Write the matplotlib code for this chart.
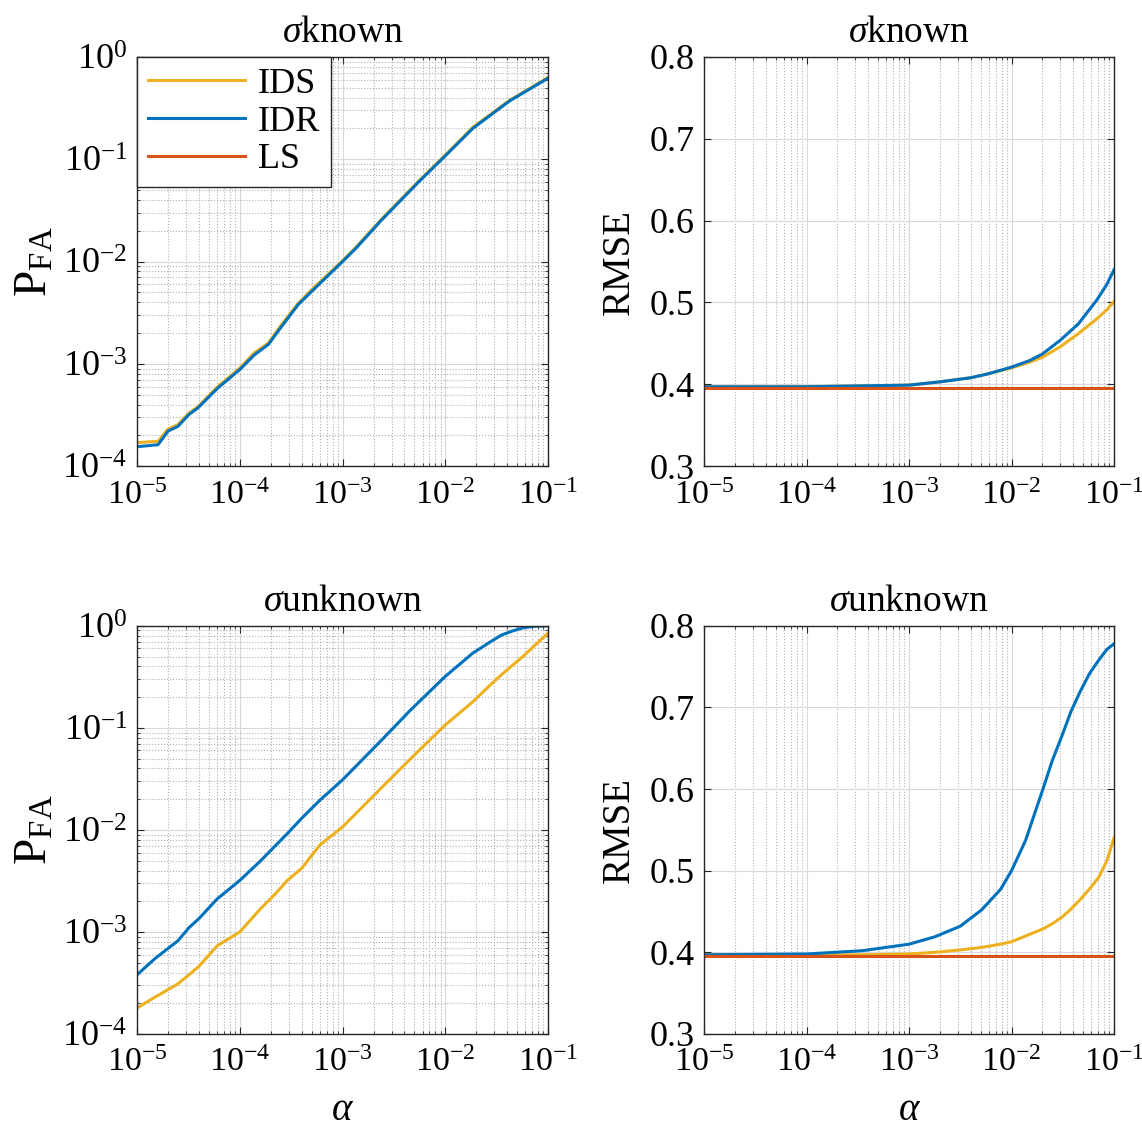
import numpy as np
import matplotlib
matplotlib.use('Agg')
import matplotlib.pyplot as plt
from matplotlib.ticker import LogLocator, MultipleLocator, NullFormatter, FormatStrFormatter

plt.rcParams['font.family'] = ['Liberation Serif', 'DejaVu Serif']
plt.rcParams['mathtext.fontset'] = 'custom'
plt.rcParams['mathtext.rm'] = 'Liberation Serif'
plt.rcParams['mathtext.it'] = 'Liberation Serif:italic'
plt.rcParams['mathtext.bf'] = 'Liberation Serif:bold'

# sigma known, P_FA
a_pk = [1e-5, 1.6e-5, 2e-5, 2.5e-5, 3.2e-5, 3.9e-5, 6.1e-5, 1e-4, 1.38e-4, 1.9e-4, 2.45e-4,
        3.7e-4, 5.1e-4, 1e-3, 1.35e-3, 2.4e-3, 5.5e-3, 1e-2, 1.85e-2, 4.2e-2, 1e-1]
ids_pk = [1.7e-4, 1.75e-4, 2.3e-4, 2.55e-4, 3.3e-4, 3.8e-4, 6e-4, 9.1e-4, 1.28e-3, 1.6e-3, 2.3e-3,
          3.9e-3, 5.4e-3, 1.02e-2, 1.38e-2, 2.6e-2, 6.1e-2, 1.1e-1, 2.05e-1, 3.75e-1, 6.3e-1]
idr_pk = [1.55e-4, 1.62e-4, 2.2e-4, 2.45e-4, 3.2e-4, 3.7e-4, 5.8e-4, 8.8e-4, 1.22e-3, 1.55e-3, 2.2e-3,
          3.8e-3, 5.2e-3, 1e-2, 1.35e-2, 2.55e-2, 6e-2, 1.08e-1, 2e-1, 3.7e-1, 6.2e-1]

# sigma unknown, P_FA
a_pu = [1e-5, 1.5e-5, 2.5e-5, 3.2e-5, 4e-5, 6e-5, 1e-4, 1.6e-4, 2.25e-4, 2.9e-4, 4e-4, 6e-4,
        1e-3, 2.4e-3, 4.6e-3, 1e-2, 1.85e-2, 2.7e-2, 3.5e-2, 4.5e-2, 5.8e-2, 7.5e-2, 1e-1]
ids_pu = [1.8e-4, 2.3e-4, 3.1e-4, 3.8e-4, 4.6e-4, 7.3e-4, 1e-3, 1.7e-3, 2.4e-3, 3.2e-3, 4.2e-3, 7.1e-3,
          1.07e-2, 2.6e-2, 5e-2, 1.07e-1, 1.8e-1, 2.6e-1, 3.3e-1, 4.1e-1, 5.1e-1, 6.5e-1, 8.5e-1]
idr_pu = [3.8e-4, 5.5e-4, 8.2e-4, 1.1e-3, 1.35e-3, 2.1e-3, 3.2e-3, 5e-3, 7.1e-3, 9.2e-3, 1.3e-2, 1.95e-2,
          3.1e-2, 7.6e-2, 1.5e-1, 3.2e-1, 5.4e-1, 6.9e-1, 8.1e-1, 8.9e-1, 9.6e-1, 9.9e-1, 1.0]

# sigma known, RMSE
a_rk = [1e-5, 1e-4, 1e-3, 2e-3, 4e-3, 6e-3, 1e-2, 1.5e-2, 2e-2, 3e-2, 4.5e-2, 6.8e-2, 8.5e-2, 1e-1]
ids_rk = [0.397, 0.397, 0.399, 0.403, 0.408, 0.413, 0.42, 0.427, 0.433, 0.446, 0.462, 0.48, 0.491, 0.501]
idr_rk = [0.397, 0.397, 0.399, 0.403, 0.408, 0.413, 0.421, 0.429, 0.437, 0.454, 0.474, 0.503, 0.522, 0.54]
ls_rk = [0.396] * len(a_rk)

# sigma unknown, RMSE
a_ru = [1e-5, 1e-4, 3.5e-4, 1e-3, 1.78e-3, 3.16e-3, 5.1e-3, 7.8e-3, 1e-2, 1.37e-2, 2.05e-2,
        2.5e-2, 3.1e-2, 3.8e-2, 4.7e-2, 5.8e-2, 7.1e-2, 8.5e-2, 1e-1]
ids_ru = [0.397, 0.397, 0.397, 0.398, 0.4, 0.403, 0.406, 0.41, 0.413, 0.42, 0.429,
          0.435, 0.443, 0.453, 0.465, 0.478, 0.492, 0.512, 0.54]
idr_ru = [0.397, 0.398, 0.402, 0.41, 0.419, 0.432, 0.452, 0.477, 0.5, 0.537, 0.602,
          0.635, 0.665, 0.695, 0.72, 0.742, 0.758, 0.771, 0.778]
ls_ru = [0.395] * len(a_ru)

C_IDS = '#EDB120'
C_IDR = '#0072BD'
C_LS = '#D95319'
LW = 2.2

fig = plt.figure(figsize=(11.42, 11.37), dpi=100)
ax1 = fig.add_axes([0.120, 0.590, 0.360, 0.360])
ax2 = fig.add_axes([0.6165, 0.590, 0.359, 0.360])
ax3 = fig.add_axes([0.120, 0.0906, 0.360, 0.359])
ax4 = fig.add_axes([0.6165, 0.0906, 0.359, 0.359])


def style(ax, logy):
    ax.set_xscale('log')
    ax.set_xlim(1e-5, 1e-1)
    ax.xaxis.set_major_locator(LogLocator(base=10, numticks=10))
    ax.xaxis.set_minor_locator(LogLocator(base=10, subs=np.arange(2, 10), numticks=20))
    ax.xaxis.set_minor_formatter(NullFormatter())
    if logy:
        ax.set_yscale('log')
        ax.set_ylim(1e-4, 1)
        ax.yaxis.set_major_locator(LogLocator(base=10, numticks=10))
        ax.yaxis.set_minor_locator(LogLocator(base=10, subs=np.arange(2, 10), numticks=20))
        ax.yaxis.set_minor_formatter(NullFormatter())
        ax.grid(True, which='minor', axis='both', color='#b0b0b0', linestyle=':', linewidth=0.8)
        ax.set_ylabel(r'$\mathrm{P}_{\mathrm{FA}}$', fontsize=34, labelpad=4)
    else:
        ax.set_ylim(0.3, 0.8)
        ax.yaxis.set_major_locator(MultipleLocator(0.1))
        ax.yaxis.set_major_formatter(FormatStrFormatter('%.1f'))
        ax.grid(True, which='minor', axis='x', color='#b0b0b0', linestyle=':', linewidth=0.8)
        ax.set_ylabel('RMSE', fontsize=28, labelpad=8)
    ax.grid(True, which='major', color='#d9d9d9', linestyle='-', linewidth=0.8)
    ax.set_axisbelow(True)
    ax.tick_params(which='both', direction='in', top=True, right=True, colors='#262626',
                   labelcolor='black', labelsize=26)
    ax.tick_params(axis='x', which='major', pad=10, labelsize=24.5)
    ax.tick_params(axis='y', which='major', pad=7)
    ax.tick_params(which='major', length=5)
    ax.tick_params(which='minor', length=2.5)
    for s in ax.spines.values():
        s.set_color('#262626')
        s.set_linewidth(1.0)


style(ax1, True)
ax1.plot(a_pk, ids_pk, color=C_IDS, lw=LW, label='IDS')
ax1.plot(a_pk, idr_pk, color=C_IDR, lw=LW, label='IDR')
ax1.plot([], [], color=C_LS, lw=LW, label='LS')
ax1.set_title(r'$\sigma$known', fontsize=27, pad=11)
leg = ax1.legend(loc='upper left', bbox_to_anchor=(0, 1), borderaxespad=0, fontsize=26,
                 handlelength=2.7, handletextpad=0.35, labelspacing=0.12, borderpad=0.3,
                 fancybox=False, framealpha=1, edgecolor='#262626')
leg.get_frame().set_linewidth(1.0)

style(ax2, False)
ax2.plot(a_rk, ids_rk, color=C_IDS, lw=LW)
ax2.plot(a_rk, idr_rk, color=C_IDR, lw=LW)
ax2.plot(a_rk, ls_rk, color=C_LS, lw=LW)
ax2.set_title(r'$\sigma$known', fontsize=27, pad=11)

style(ax3, True)
ax3.plot(a_pu, ids_pu, color=C_IDS, lw=LW)
ax3.plot(a_pu, idr_pu, color=C_IDR, lw=LW)
ax3.set_title(r'$\sigma$unknown', fontsize=27, pad=11)
ax3.set_xlabel(r'$\alpha$', fontsize=28, labelpad=10)

style(ax4, False)
ax4.plot(a_ru, ids_ru, color=C_IDS, lw=LW)
ax4.plot(a_ru, idr_ru, color=C_IDR, lw=LW)
ax4.plot(a_ru, ls_ru, color=C_LS, lw=LW)
ax4.set_title(r'$\sigma$unknown', fontsize=27, pad=11)
ax4.set_xlabel(r'$\alpha$', fontsize=28, labelpad=10)

fig.savefig('out.png', dpi=100)
